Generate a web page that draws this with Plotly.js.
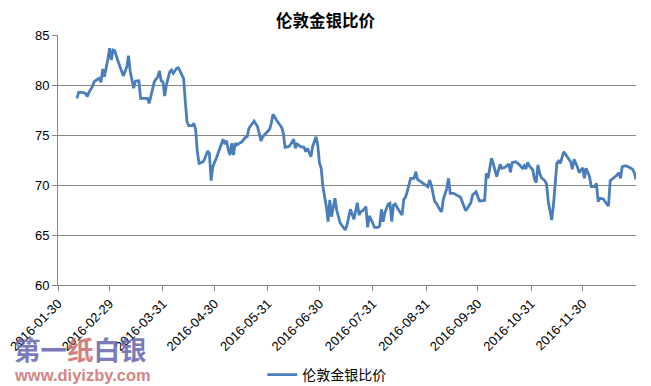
<!DOCTYPE html>
<html>
<head>
<meta charset="utf-8">
<script src="https://cdn.plot.ly/plotly-3.0.1.min.js"></script>
<style>html,body{margin:0;padding:0;background:#fff;}#chart{width:651px;height:386px;}</style>
</head>
<body>
<div id="chart"></div>
<script>
const seriesName = "伦敦金银比价";
const dates = [
"2016-02-10","2016-02-11","2016-02-13","2016-02-15","2016-02-16","2016-02-17","2016-02-19","2016-02-20","2016-02-22","2016-02-23",
"2016-02-24","2016-02-25","2016-02-26","2016-02-27","2016-02-28","2016-02-29","2016-03-01","2016-03-02","2016-03-03","2016-03-05",
"2016-03-07","2016-03-08","2016-03-10","2016-03-11","2016-03-12","2016-03-13","2016-03-14","2016-03-15","2016-03-17","2016-03-18",
"2016-03-20","2016-03-21","2016-03-22","2016-03-23","2016-03-25","2016-03-26","2016-03-28","2016-03-29","2016-03-30","2016-03-31",
"2016-04-01","2016-04-02","2016-04-04","2016-04-05","2016-04-06","2016-04-08","2016-04-09","2016-04-10","2016-04-12","2016-04-13",
"2016-04-14","2016-04-15","2016-04-17","2016-04-18","2016-04-19","2016-04-20","2016-04-21","2016-04-23","2016-04-24","2016-04-26",
"2016-04-27","2016-04-28","2016-04-29","2016-05-01","2016-05-03","2016-05-05","2016-05-06","2016-05-07","2016-05-08","2016-05-09",
"2016-05-10","2016-05-11","2016-05-12","2016-05-13","2016-05-15","2016-05-16","2016-05-18","2016-05-19","2016-05-20","2016-05-22",
"2016-05-23","2016-05-25","2016-05-27","2016-05-28","2016-05-30","2016-06-01","2016-06-02","2016-06-03","2016-06-05","2016-06-06",
"2016-06-07","2016-06-08","2016-06-09","2016-06-10","2016-06-12","2016-06-13","2016-06-15","2016-06-16","2016-06-17","2016-06-18",
"2016-06-19","2016-06-21","2016-06-22","2016-06-23","2016-06-24","2016-06-25","2016-06-26","2016-06-28","2016-06-29","2016-06-30",
"2016-07-01","2016-07-02","2016-07-04","2016-07-05","2016-07-06","2016-07-07","2016-07-09","2016-07-10","2016-07-12","2016-07-13",
"2016-07-15","2016-07-16","2016-07-17","2016-07-18","2016-07-20","2016-07-21","2016-07-22","2016-07-23","2016-07-24","2016-07-25",
"2016-07-27","2016-07-28","2016-07-29","2016-07-30","2016-08-01","2016-08-03","2016-08-04","2016-08-05","2016-08-06","2016-08-07",
"2016-08-09","2016-08-10","2016-08-11","2016-08-12","2016-08-13","2016-08-15","2016-08-17","2016-08-18","2016-08-19","2016-08-20",
"2016-08-21","2016-08-22","2016-08-24","2016-08-25","2016-08-26","2016-08-28","2016-08-30","2016-09-01","2016-09-02","2016-09-03",
"2016-09-05","2016-09-06","2016-09-08","2016-09-09","2016-09-10","2016-09-12","2016-09-13","2016-09-14","2016-09-16","2016-09-18",
"2016-09-20","2016-09-21","2016-09-23","2016-09-24","2016-09-26","2016-09-27","2016-09-28","2016-09-29","2016-10-01","2016-10-02",
"2016-10-04","2016-10-05","2016-10-06","2016-10-08","2016-10-09","2016-10-11","2016-10-13","2016-10-14","2016-10-16","2016-10-18",
"2016-10-19","2016-10-20","2016-10-22","2016-10-24","2016-10-26","2016-10-27","2016-10-28","2016-10-29","2016-10-30","2016-11-01",
"2016-11-02","2016-11-03","2016-11-04","2016-11-05","2016-11-06","2016-11-08","2016-11-09","2016-11-10","2016-11-12","2016-11-13",
"2016-11-14","2016-11-15","2016-11-16","2016-11-17","2016-11-19","2016-11-20","2016-11-22","2016-11-23","2016-11-24","2016-11-25",
"2016-11-27","2016-11-28","2016-11-30","2016-12-01","2016-12-02","2016-12-04","2016-12-05","2016-12-07","2016-12-08","2016-12-09",
"2016-12-10","2016-12-12","2016-12-14","2016-12-15","2016-12-16","2016-12-18","2016-12-20","2016-12-21","2016-12-22","2016-12-23",
"2016-12-25","2016-12-27","2016-12-29","2016-12-30","2016-12-31"
];
const ratio = [
78.67,79.27,79.27,79.17,78.83,79.27,79.83,80.33,80.57,80.67,
80.27,81.6,80.83,81.6,82.6,83.67,82.5,83.5,83.43,82.33,
81.33,80.9,81.83,82.93,81.33,80.5,79.67,80.4,80.43,78.67,
78.67,78.73,78.67,78.17,79.83,80.33,80.83,81.4,80.4,80.33,
78.9,80.0,81.33,81.5,81.17,81.67,81.73,81.33,80.67,78.33,
76.33,75.93,75.93,76.17,75.57,73.33,72.17,72.3,72.5,73.4,
73.17,70.43,71.83,72.67,73.57,74.57,74.1,74.43,73.5,73.0,
74.17,73.0,74.17,74.0,74.23,74.33,74.77,74.83,75.67,76.17,
76.4,75.83,74.4,74.83,75.23,75.57,76.17,77.07,76.5,76.17,
76.0,75.77,75.17,73.77,73.83,74.0,74.57,73.67,74.1,74.0,
73.83,73.77,73.33,73.67,73.17,72.83,73.83,74.83,74.0,72.17,
71.67,69.83,67.83,66.33,68.5,66.83,68.67,67.5,66.2,66.0,
65.5,66.0,66.77,67.57,66.57,67.33,68.23,67.0,67.33,67.4,
67.83,65.77,66.9,66.57,65.77,65.77,65.9,67.57,66.33,67.23,
68.1,68.17,66.33,68.0,68.1,67.5,67.0,68.57,68.77,69.33,
70.17,70.67,70.67,71.33,70.57,70.33,70.1,69.83,70.5,70.0,
68.33,68.17,67.5,67.33,68.57,69.67,70.67,69.17,69.17,69.0,
68.77,68.33,67.43,67.67,68.23,69.0,69.17,69.33,68.4,68.4,
68.45,71.17,70.67,72.67,72.17,70.83,72.07,71.67,71.77,72.1,
71.27,72.23,72.33,72.07,71.67,71.93,71.6,72.27,71.9,71.5,
70.57,70.23,72.0,71.17,70.73,70.43,70.1,68.33,66.5,68.0,
70.17,72.17,72.4,72.17,73.33,73.1,72.67,72.33,71.57,72.57,
71.77,71.23,71.73,70.67,71.67,70.83,69.83,69.83,70.17,68.33,
68.67,68.6,68.1,67.9,70.43,70.67,71.0,71.23,70.67,71.83,
71.93,71.77,71.57,71.23,70.57
];
const tickDates = ["2016-01-30","2016-02-29","2016-03-31","2016-04-30","2016-05-31","2016-06-30","2016-07-31","2016-08-31","2016-09-30","2016-10-31","2016-11-30"];
const tickLabels = ["2016-01-30","2016-02-29","2016-03-31","2016-04-30","2016-05-31","2016-06-30","2016-07-31","2016-08-31","2016-09-30","2016-10-31","2016-11-30"];
const yTicks = [60,65,70,75,80,85];

const trace = {
  x: dates, y: ratio, type: 'scatter', mode: 'lines', name: seriesName,
  line: {color: '#4a7ebb', width: 2.8}
};
const layout = {
  width: 651, height: 386,
  margin: {l: 58, r: 15, t: 35, b: 101, autoexpand: false},
  paper_bgcolor: '#fff', plot_bgcolor: '#fff',
  font: {family: 'Liberation Sans, Arial, sans-serif', size: 13, color: '#000'},
  title: {text: '<b>伦敦金银比价</b>', font: {family: 'Noto Sans CJK SC', size: 16.5, color: '#000'}, x: 0.5, xanchor: 'center', y: 0.945, yanchor: 'middle'},
  showlegend: true,
  legend: {orientation: 'h', x: 0.465, xanchor: 'center', y: -0.36, yanchor: 'middle', font: {family: 'Noto Sans CJK SC', size: 14}, itemwidth: 30},
  xaxis: {
    type: 'date', range: ['2016-01-30', '2016-12-31'], automargin: false,
    tickmode: 'array', tickvals: tickDates, ticktext: tickLabels, tickangle: -45,
    ticks: 'outside', ticklen: 5, tickcolor: '#868686', showgrid: false,
    showline: true, linecolor: '#868686', linewidth: 1, zeroline: false,
    tickfont: {family: 'Liberation Sans, Arial, sans-serif', size: 13, color: '#000'}
  },
  yaxis: {
    range: [60, 85], tickmode: 'array', tickvals: yTicks, ticktext: yTicks.map(String), automargin: false,
    ticks: 'outside', ticklen: 5, tickcolor: '#868686',
    showgrid: true, gridcolor: '#868686', gridwidth: 1,
    showline: true, linecolor: '#868686', linewidth: 1, zeroline: false,
    tickfont: {family: 'Liberation Sans, Arial, sans-serif', size: 13, color: '#000'}
  },
  annotations: [
    {xref: 'paper', yref: 'paper', x: -0.08, xanchor: 'left', y: -0.255, yanchor: 'middle', showarrow: false,
     text: '<b><span style="color:#6464b0">第一</span><span style="color:#cc6a6a">纸</span><span style="color:#6464b0">白银</span></b>',
     font: {family: 'Noto Sans CJK SC', size: 26.5}, opacity: 0.85},
    {xref: 'paper', yref: 'paper', x: -0.08, xanchor: 'left', y: -0.36, yanchor: 'middle', showarrow: false,
     text: '<b>www.diyizby.com</b>', font: {family: 'Liberation Sans, Arial, sans-serif', size: 16.5, color: '#d07878'}, opacity: 0.9}
  ]
};
Plotly.newPlot('chart', [trace], layout, {displayModeBar: false, staticPlot: true});
</script>
</body>
</html>
